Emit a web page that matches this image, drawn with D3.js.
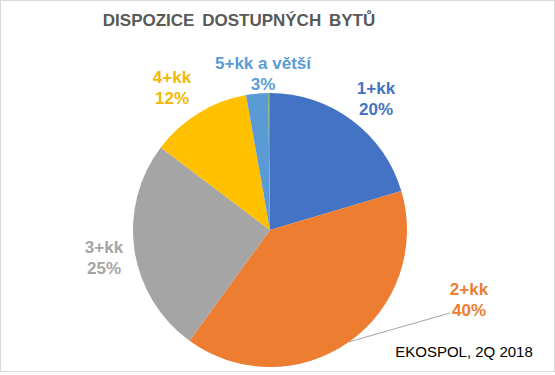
<!DOCTYPE html>
<html lang="cs">
<head>
<meta charset="utf-8">
<title>Dispozice dostupných bytů</title>
<script src="https://d3js.org/d3.v7.min.js"></script>
<style>
  body { margin: 0; background: #fff; }
  text { font-family: "Liberation Sans", Arial, sans-serif; }
</style>
</head>
<body>
<script>
var w = 555, h = 375;

// data
var categories = ["1+kk", "2+kk", "3+kk", "4+kk", "5+kk a větší", "6+kk"];
var shares = [20.4, 39.6, 25.3, 11.9, 2.6, 0.2];
var percentLabels = ["20%", "40%", "25%", "12%", "3%", ""];
var colors = ["#4472C4", "#ED7D31", "#A5A5A5", "#FFC000", "#5B9BD5", "#70AD47"];
var labelColors = ["#4472C4", "#ED7D31", "#A5A5A5", "#F2B705", "#5B9BD5", "#70AD47"];

var cx = 270, cy = 230, radius = 137;

var svg = d3.select("body").append("svg")
    .attr("width", w)
    .attr("height", h);

svg.append("rect")
    .attr("x", 0.5).attr("y", 0.5)
    .attr("width", w - 1).attr("height", h - 4)
    .attr("fill", "#fff")
    .attr("stroke", "#d9d9d9");

svg.append("text")
    .attr("x", 239)
    .attr("y", 26)
    .attr("text-anchor", "middle")
    .style("font-size", "17px")
    .style("font-weight", "bold")
    .style("word-spacing", "3px")
    .attr("fill", "#595959")
    .text("DISPOZICE DOSTUPNÝCH BYTŮ");

var pie = d3.pie().sort(null).value(function(d) { return d; });
var arcs = pie(shares);
var arc = d3.arc().innerRadius(0).outerRadius(radius);

var g = svg.append("g").attr("transform", "translate(" + cx + "," + cy + ")");

g.selectAll("path.slice")
    .data(arcs)
    .enter()
    .append("path")
    .attr("class", "slice")
    .attr("d", arc)
    .attr("fill", function(d, i) { return colors[i]; });

// label anchor points (first line baseline), relative to the pie centre
var labelPos = [
    [106, -136],
    [199, 65],
    [-166, 23],
    [-98, -147],
    [-7, -161],
    null
];

labelPos.forEach(function(p, i) {
    if (!p) return;
    var t = g.append("text")
        .attr("text-anchor", "middle")
        .attr("fill", labelColors[i])
        .style("font-size", "17px")
        .style("font-weight", "bold");
    t.append("tspan").attr("x", p[0]).attr("y", p[1]).text(categories[i]);
    t.append("tspan").attr("x", p[0]).attr("y", p[1] + 21).text(percentLabels[i]);
});

// leader line for 2+kk
var mid = (arcs[1].startAngle + arcs[1].endAngle) / 2;
g.append("line")
    .attr("x1", Math.sin(mid) * radius)
    .attr("y1", -Math.cos(mid) * radius)
    .attr("x2", 180)
    .attr("y2", 83)
    .attr("stroke", "#a6a6a6")
    .attr("stroke-width", 1);

svg.append("text")
    .attr("x", 464)
    .attr("y", 357)
    .attr("text-anchor", "middle")
    .style("font-size", "15px")
    .attr("fill", "#000")
    .text("EKOSPOL, 2Q 2018");
</script>
</body>
</html>
